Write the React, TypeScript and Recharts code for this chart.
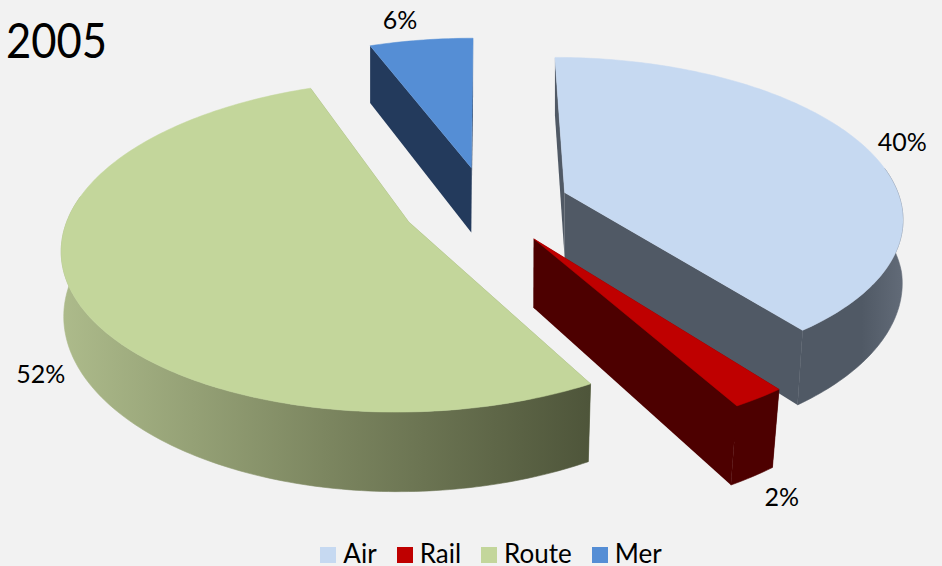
import React from "react";
import { PieChart, Pie, Legend } from "recharts";

const categories = ["Air", "Rail", "Route", "Mer"];
const shares = [39.6, 2.2, 52.4, 5.8];
const title = "2005";

const topColors = ["#c6d9f1", "#bf0000", "#c3d69b", "#558ed5"];
const sideColors = ["#505965", "#4d0000", "#7d8a5e", "#233a5c"];
const wallStops: string[][] = [
  ["#505965", "#505965", "#626b78"],
  ["#4d0000", "#4d0000", "#4d0000"],
  ["#adbb8b", "#7c8660", "#4e553a"],
  ["#233a5c", "#233a5c", "#233a5c"],
];
const labelNudge = [
  [39, -4],
  [23, 98],
  [-33, 77],
  [-21, -21],
];

const data = categories.map((name, i) => ({ name, value: shares[i], fill: topColors[i], idx: i }));

// camera of the tilted, exploded pie
const TILT = 0.468;
const DIST = 2365;
const DROP = 67;
const EXPLODE = 84;
const FONT = "Lato, Carlito, sans-serif";

const project = (cx: number, cy: number, x: number, z: number, drop = 0) => {
  const s = 1 / (1 - z / DIST);
  const shrink = drop ? 1 - (0.02 * Math.max(0, z)) / 300 : 1;
  return [cx + x * s * shrink, cy + TILT * z * s + drop * s];
};

// clockwise angle from 12 o'clock
const slicePoint = (r: number, alpha: number, mid: number) => {
  const a = (alpha * Math.PI) / 180;
  const m = (mid * Math.PI) / 180;
  return [EXPLODE * Math.sin(m) + r * Math.sin(a), -EXPLODE * Math.cos(m) - r * Math.cos(a)];
};

const toPath = (pts: number[][]) =>
  "M" + pts.map((p) => `${p[0].toFixed(2)},${p[1].toFixed(2)}`).join("L") + "Z";

const Slice3D = (props: any) => {
  const { cx, cy, outerRadius, startAngle, endAngle, payload } = props;
  const idx = payload?.idx ?? props.idx ?? 0;
  const a0 = 90 - startAngle;
  const a1 = 90 - endAngle;
  const mid = (a0 + a1) / 2;
  const P = (r: number, a: number, drop = 0) => {
    const [x, z] = slicePoint(r, a, mid);
    return project(cx, cy, x, z, drop);
  };
  const n = Math.max(4, Math.ceil(a1 - a0));
  const arc: number[] = [];
  for (let i = 0; i <= n; i++) arc.push(a0 + ((a1 - a0) * i) / n);

  const top = [P(0, a0), ...arc.map((a) => P(outerRadius, a))];
  // only the front of the rim has a visible wall
  const front = arc.filter((a) => a >= 80 && a <= 280);
  const wall = [...front.map((a) => P(outerRadius, a)), ...front.slice().reverse().map((a) => P(outerRadius, a, DROP))];
  const face = (a: number) => [P(0, a), P(outerRadius, a), P(outerRadius, a, DROP), P(0, a, DROP)];
  const xs = wall.map((p) => p[0]);
  const gid = `wall-${idx}`;
  const grad = `url(#${gid})`;
  return (
    <g>
      {front.length > 1 && (
        <defs>
          <linearGradient id={gid} gradientUnits="userSpaceOnUse" x1={idx === 0 ? 820 : Math.min(...xs)} x2={Math.max(...xs)} y1={0} y2={0}>
            <stop offset="0" stopColor={wallStops[idx][0]} />
            <stop offset="0.5" stopColor={wallStops[idx][1]} />
            <stop offset="1" stopColor={wallStops[idx][2]} />
          </linearGradient>
        </defs>
      )}
      <path d={toPath(face(a0))} fill={sideColors[idx]} />
      <path d={toPath(face(a1))} fill={sideColors[idx]} />
      {front.length > 1 && <path d={toPath(wall)} fill={grad} stroke={grad} strokeWidth={0.6} />}
      <path d={toPath(top)} fill={topColors[idx]} stroke={topColors[idx]} strokeWidth={0.5} />
    </g>
  );
};

const renderLabel = (props: any) => {
  const { cx, cy, midAngle, outerRadius, payload, value } = props;
  const idx = payload?.idx ?? 0;
  const mid = 90 - midAngle;
  const [x, z] = slicePoint(outerRadius, mid, mid);
  const [px, py] = project(cx, cy, x, z);
  return (
    <text
      x={px + labelNudge[idx][0]}
      y={py + labelNudge[idx][1]}
      fontFamily={FONT}
      fontSize={25}
      fill="#000"
      textAnchor="middle"
      dominantBaseline="central"
    >
      {`${Math.round(value)}%`}
    </text>
  );
};

const LegendRow = (props: any) => (
  <div style={{ display: "flex", justifyContent: "center", alignItems: "center", fontFamily: FONT, fontSize: 26, color: "#000", lineHeight: "20px" }}>
    {(props.payload || []).map((e: any, i: number) => (
      <span key={e.value} style={{ display: "flex", alignItems: "center", marginRight: i < 3 ? 20 : 0 }}>
        <svg width={16} height={16} style={{ marginRight: 7, position: "relative", top: 2 }}>
          <rect width={16} height={16} fill={e.color} />
        </svg>
        {e.value}
      </span>
    ))}
  </div>
);

export default function App() {
  return (
    <div style={{ position: "absolute", left: 0, top: 0, width: 942, height: 566, background: "#f2f2f2", overflow: "hidden" }}>
      <PieChart width={942} height={566} margin={{ top: 0, right: 0, bottom: 0, left: 0 }}>
        <Pie
          data={data}
          dataKey="value"
          nameKey="name"
          cx={486}
          cy={205}
          innerRadius={0}
          outerRadius={337}
          startAngle={90}
          endAngle={-270}
          stroke="none"
          isAnimationActive={false}
          shape={Slice3D}
          label={renderLabel}
          labelLine={false}
        />
        <text x={6} y={58} fontFamily={FONT} fontSize={48} fill="#000" textLength={101} lengthAdjust="spacingAndGlyphs">
          {title}
        </text>
        <Legend
          verticalAlign="bottom"
          itemSorter={null}
          content={<LegendRow />}
          wrapperStyle={{ left: 20, width: 942, bottom: 3 }}
        />
      </PieChart>
    </div>
  );
}
